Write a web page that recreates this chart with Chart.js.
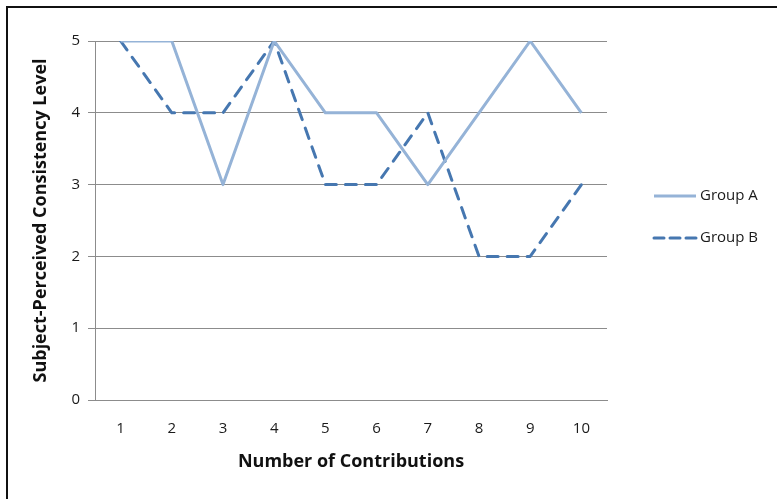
<!DOCTYPE html>
<html>
<head>
<meta charset="utf-8">
<script src="https://cdn.jsdelivr.net/npm/chart.js@4"></script>
<style>
  html, body { margin: 0; padding: 0; background: #fff; }
  #wrap { position: relative; width: 777px; height: 499px; }
</style>
</head>
<body>
<div id="wrap"><canvas id="myChart" width="777" height="499"></canvas></div>
<script>
const contributions = ['1', '2', '3', '4', '5', '6', '7', '8', '9', '10'];
const groupA = [5, 5, 3, 5, 4, 4, 3, 4, 5, 4];
const groupB = [5, 4, 4, 5, 3, 3, 4, 2, 2, 3];
const levelTicks = [0, 1, 2, 3, 4, 5];

const FONT = '"Open Sans", Lato, sans-serif';
const GRID = '#8c8c8c';

// frame lines along the top and left edges + white background
const framePlugin = {
  id: 'frame',
  beforeDraw(chart) {
    const ctx = chart.ctx;
    ctx.save();
    ctx.fillStyle = '#fff';
    ctx.fillRect(0, 0, chart.width, chart.height);
    ctx.strokeStyle = '#111';
    ctx.lineWidth = 2;
    ctx.beginPath();
    ctx.moveTo(7, chart.height);
    ctx.lineTo(7, 7);
    ctx.lineTo(chart.width, 7);
    ctx.stroke();
    ctx.restore();
  }
};

// legend on the right, line samples use each dataset's own style
const sideLegend = {
  id: 'sideLegend',
  afterDraw(chart) {
    const ctx = chart.ctx;
    const x0 = chart.chartArea.right + 45;
    const yTop = 196;
    ctx.save();
    chart.data.datasets.forEach((ds, i) => {
      const y = yTop + i * 42;
      ctx.strokeStyle = ds.borderColor;
      ctx.lineWidth = ds.borderWidth;
      ctx.lineCap = ds.borderCapStyle || 'butt';
      // three even dashes for the sample
      ctx.setLineDash(ds.borderDash ? [10, 6] : []);
      ctx.beginPath();
      ctx.moveTo(x0 + 2, y);
      ctx.lineTo(x0 + 44, y);
      ctx.stroke();
      ctx.setLineDash([]);
      ctx.fillStyle = '#1a1a1a';
      ctx.font = '15px ' + FONT;
      ctx.textBaseline = 'middle';
      ctx.fillText(ds.label, x0 + 48, y);
    });
    ctx.restore();
  }
};

const data = {
  labels: contributions,
  datasets: [{
    label: 'Group A',
    data: groupA,
    borderColor: '#95b3d7',
    borderWidth: 3,
    borderJoinStyle: 'round',
    pointRadius: 0,
    tension: 0
  }, {
    label: 'Group B',
    data: groupB,
    borderColor: '#4677b0',
    borderWidth: 3,
    borderDash: [11, 9],
    borderCapStyle: 'round',
    borderJoinStyle: 'round',
    pointRadius: 0,
    tension: 0
  }]
};

const config = {
  type: 'line',
  data: data,
  plugins: [framePlugin, sideLegend],
  options: {
    responsive: false,
    animation: false,
    layout: {
      padding: { left: 0, top: 41, right: 170, bottom: 0 }
    },
    plugins: {
      legend: { display: false },
      tooltip: { enabled: false }
    },
    scales: {
      x: {
        offset: true,
        grid: { display: false },
        border: { display: true, color: GRID, width: 1 },
        ticks: {
          color: '#1a1a1a',
          padding: 12,
          font: { family: FONT, size: 15 }
        },
        title: {
          display: true,
          text: 'Number of Contributions',
          color: '#111',
          font: { family: FONT, size: 18, weight: 'bold' },
          padding: { top: 0, bottom: 26 }
        },
        afterFit(scale) { scale.height = 99; }
      },
      y: {
        min: 0,
        max: 5,
        afterBuildTicks(scale) {
          scale.ticks = levelTicks.map(v => ({ value: v }));
        },
        grid: {
          color: GRID,
          lineWidth: 1,
          tickLength: 7,
          drawTicks: true
        },
        border: { display: true, color: GRID, width: 1 },
        ticks: {
          color: '#1a1a1a',
          padding: 8,
          font: { family: FONT, size: 15 }
        },
        title: {
          display: true,
          text: 'Subject-Perceived Consistency Level',
          color: '#111',
          font: { family: FONT, size: 18, weight: 'bold' },
          padding: { top: 30, bottom: 0 }
        },
        afterFit(scale) { scale.width = 95; }
      }
    }
  }
};

const myChart = new Chart(document.getElementById('myChart'), config);
</script>
</body>
</html>
